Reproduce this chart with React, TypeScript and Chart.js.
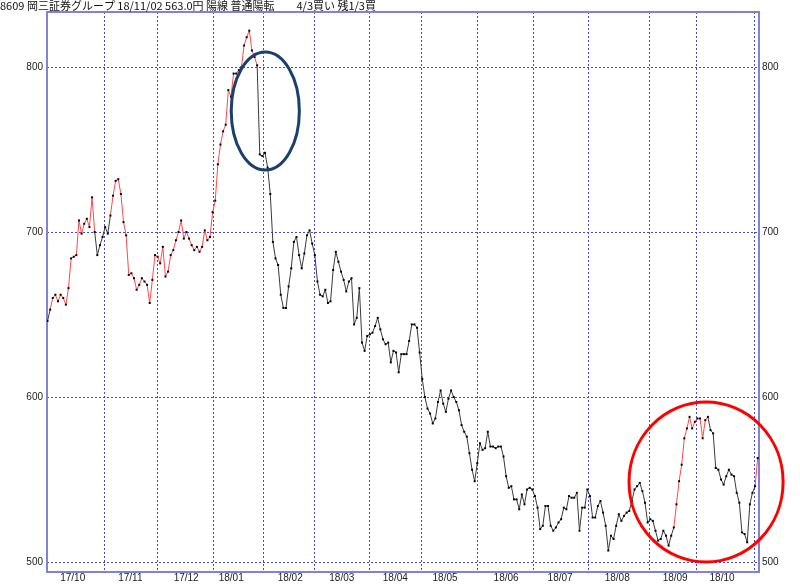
import React, { useEffect, useRef } from "react";
import { Chart, registerables } from "chart.js";

Chart.register(...registerables);

// Daily closes, 2017/10/02 .. 2018/11/02
const closes: number[] = [
  646, 653, 660, 662, 658, 662, 660, 656, 666, 684,
  685, 686, 707, 699, 705, 708, 703, 721, 700, 686,
  692, 697, 703, 699, 710, 722, 731, 732, 723, 706,
  698, 674, 675, 672, 665, 668, 672, 670, 668, 657,
  671, 686, 685, 681, 691, 673, 676,
  686, 689, 695, 700, 707, 696, 700, 696, 692, 689,
  691, 688, 691, 701, 695, 697, 712, 719, 741, 753,
  761, 765, 786, 782, 796, 796, 798, 800, 813, 818,
  822, 810, 806, 801, 747, 746, 748, 739, 723,
  694, 684, 680, 662, 654, 654, 667, 678, 694, 697,
  686, 678, 687, 698, 701, 693, 686, 670, 662, 661,
  665, 657, 658, 677, 688, 682, 676, 671, 664, 670,
  672, 644, 648, 666, 633, 628, 637, 638, 639, 643,
  648, 641, 635, 632, 633, 621, 628, 627, 615, 626,
  626, 626, 634, 644, 644, 642, 627, 611, 600,
  593, 590, 584, 587, 597, 604, 596, 591, 599, 604,
  600, 597, 592, 583, 579, 576, 566, 556, 549, 560,
  572, 568, 569, 579, 570, 570, 569, 570, 570, 564,
  552, 545, 546, 538, 538, 532, 541, 535, 544, 545,
  544, 540, 533, 520, 522, 534, 534, 522, 519, 521,
  524, 526, 533, 532, 540, 539, 539, 542,
  519, 533, 533, 544, 540, 527, 527, 534, 537, 530,
  522, 507, 516, 514, 522, 529, 525, 528, 530, 531,
  537, 544, 546, 548, 543, 536, 524, 526, 525, 519,
  513, 514, 519, 516, 510, 516, 521, 535, 549, 559,
  575, 581, 588, 581, 585, 587, 587, 575, 586, 588,
  580, 578, 557, 556, 550, 547, 552, 556, 553, 552,
  542, 536, 518, 517, 512, 535, 542, 546, 563,
];

// Index spans [from, to) of segments drawn in the "up" (red) state
const upSpans: number[][] = [
  [1, 18],
  [24, 80],
  [239, 252],
  [270, 271],
];

// Month boundaries (in trading-day index units) and month labels
const monthBoundaries: number[] = [21.6, 41.7, 63, 82.4, 101.5, 122.5, 142.5, 163.8, 185.2, 206.4, 229.7, 247.4, 269.6];
const monthLabels: string[] = ["17/10", "17/11", "17/12", "18/01", "18/02", "18/03", "18/04", "18/05", "18/06", "18/07", "18/08", "18/09", "18/10"];
const monthLabelAt: number[] = [9.6, 31.6, 52.9, 70.1, 92.6, 112.3, 132.7, 151.7, 175.0, 195.6, 217.4, 239.5, 257.4];

const priceTicks: number[] = [500, 600, 700, 800];

const titleText = "8609 岡三証券グループ 18/11/02 563.0円 陽線 普通陽転　　4/3買い 残1/3買";

// Hand-drawn highlight ellipses: centre (index, price) and radii (index, price)
const highlightCenters: number[][] = [[83.1, 773.3], [251.3, 548.5]];
const highlightRadii: number[][] = [[13, 35.8], [29.4, 48.5]];
const highlightColors: string[] = ["#1b3f6e", "#ff0000"];

const RED = "#ff4a4a";
const DARK = "#3a3a3a";
const GRID = "#4a4ac8";
const FRAME = "#8282d2";

const isUp = (i: number) => upSpans.some(([a, b]) => i >= a && i < b);

const framePlugin = {
  id: "framePlugin",
  beforeDatasetsDraw(chart: any) {
    const { ctx, chartArea: a, scales } = chart;
    const x = scales.x;
    const y = scales.y;
    ctx.save();
    ctx.strokeStyle = GRID;
    ctx.lineWidth = 1;
    ctx.setLineDash([2, 2]);
    for (const b of monthBoundaries) {
      const px = Math.round(x.getPixelForValue(b)) + 0.5;
      ctx.beginPath();
      ctx.moveTo(px, a.top);
      ctx.lineTo(px, a.bottom);
      ctx.stroke();
    }
    for (const v of priceTicks) {
      const py = Math.round(y.getPixelForValue(v)) + 0.5;
      ctx.beginPath();
      ctx.moveTo(a.left, py);
      ctx.lineTo(a.right, py);
      ctx.stroke();
    }
    ctx.setLineDash([]);
    ctx.strokeStyle = FRAME;
    ctx.lineWidth = 2;
    ctx.strokeRect(a.left, a.top, a.right - a.left, a.bottom - a.top);
    ctx.restore();
  },
  afterDraw(chart: any) {
    const { ctx, scales } = chart;
    const x = scales.x;
    const y = scales.y;
    ctx.save();
    ctx.fillStyle = "#111";
    ctx.font = '11px "Noto Sans CJK JP"';
    ctx.textBaseline = "middle";
    ctx.textAlign = "left";
    ctx.fillText(titleText, 0, 6);
    highlightCenters.forEach(([cx, cy], k) => {
      const [rx, ry] = highlightRadii[k];
      const px = x.getPixelForValue(cx);
      const py = y.getPixelForValue(cy);
      const prx = Math.abs(x.getPixelForValue(cx + rx) - px);
      const pry = Math.abs(y.getPixelForValue(cy - ry) - py);
      ctx.beginPath();
      ctx.strokeStyle = highlightColors[k];
      ctx.lineWidth = 3;
      ctx.ellipse(px, py, prx, pry, 0, 0, Math.PI * 2);
      ctx.stroke();
    });
    ctx.restore();
  },
};

export default function App() {
  const ref = useRef<HTMLCanvasElement | null>(null);

  useEffect(() => {
    if (!ref.current) return;
    const tickFont = { family: '"Liberation Sans", Arial, sans-serif', size: 10 };
    const yCommon = {
      type: "linear" as const,
      min: 494,
      max: 833.3,
      grid: { display: false, drawTicks: false },
      border: { display: false },
      afterBuildTicks: (s: any) => {
        s.ticks = priceTicks.map((v) => ({ value: v }));
      },
    };
    const chart = new Chart(ref.current, {
      type: "line",
      data: {
        datasets: [
          {
            data: closes.map((v, i) => ({ x: i, y: v })),
            borderWidth: 1,
            borderColor: DARK,
            pointRadius: 1.4,
            pointStyle: "rect",
            pointBackgroundColor: "#000",
            pointBorderWidth: 0,
            tension: 0,
            segment: {
              borderColor: (c: any) => (isUp(c.p0DataIndex) ? RED : DARK),
            },
          },
        ],
      },
      options: {
        animation: false,
        responsive: false,
        maintainAspectRatio: false,
        layout: { padding: { top: 12, left: 0, right: 0, bottom: 0 } },
        plugins: { legend: { display: false }, tooltip: { enabled: false }, title: { display: false } },
        scales: {
          x: {
            type: "linear",
            min: -0.2,
            max: 271.5,
            position: "bottom",
            grid: { display: false, drawTicks: false },
            border: { display: false },
            afterBuildTicks: (s: any) => {
              s.ticks = monthLabelAt.map((v) => ({ value: v }));
            },
            afterFit: (s: any) => {
              s.height = 12;
            },
            ticks: {
              autoSkip: false,
              maxRotation: 0,
              padding: 0,
              color: "#222",
              font: tickFont,
              callback: (_v: any, i: number) => monthLabels[i],
            },
          },
          y: {
            ...yCommon,
            position: "left",
            afterFit: (s: any) => {
              s.width = 47;
            },
            ticks: { padding: 4, color: "#222", font: tickFont },
          },
          y2: {
            ...yCommon,
            position: "right",
            afterFit: (s: any) => {
              s.width = 41;
            },
            ticks: { padding: 3, color: "#222", font: tickFont },
          },
        },
      },
      plugins: [framePlugin],
    } as any);
    return () => chart.destroy();
  }, []);

  return (
    <div style={{ position: "absolute", left: 0, top: 0, width: 800, height: 584, background: "#fff" }}>
      <canvas ref={ref} width={800} height={584} style={{ width: 800, height: 584, display: "block" }} />
    </div>
  );
}
